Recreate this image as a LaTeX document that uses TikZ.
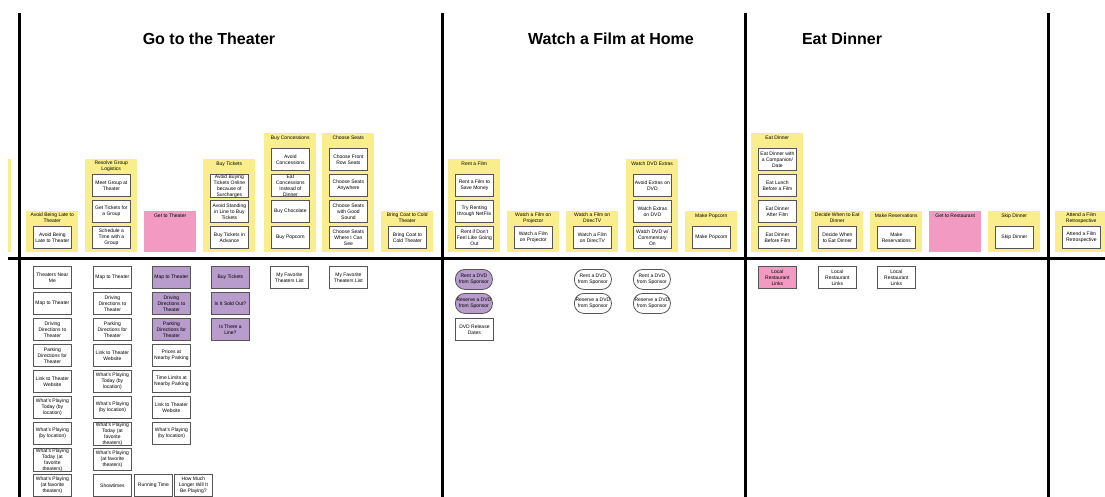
\documentclass[tikz,border=0pt]{standalone}
\usepackage{fontspec}
\setmainfont{Liberation Sans}
\definecolor{yellowc}{RGB}{250,238,140}
\definecolor{pinkc}{RGB}{243,154,195}
\definecolor{purplec}{RGB}{184,156,204}
\definecolor{cardline}{RGB}{85,85,85}
\newcommand\cardfont{\fontsize{5}{6}\selectfont}
\tikzset{
  grp/.style={fill=yellowc, draw=none, anchor=north west, minimum width=52pt, inner sep=0pt},
  pgrp/.style={grp, fill=pinkc},
  gtitle/.style={font=\cardfont, align=center, anchor=north, inner sep=0pt},
  card/.style={draw=cardline, line width=0.8pt, fill=white, anchor=north west,
    minimum width=38pt, minimum height=22pt, inner sep=0pt, align=center, font=\cardfont},
  pcard/.style={card, fill=purplec},
  kcard/.style={card, fill=pinkc},
  oval/.style={card, minimum width=37pt, minimum height=20pt, rounded corners=9.5pt},
  poval/.style={oval, fill=purplec},
  lane/.style={line width=3pt, black},
  head/.style={font=\bfseries\fontsize{16}{18}\selectfont, anchor=center, inner sep=0pt}
}
\begin{document}
\begin{tikzpicture}[x=1pt, y=-1pt]
\useasboundingbox (0,0) rectangle (1105,497);

% ---------- lane titles ----------
\node[head] (h1) at (209,39) {Go to the Theater};
\node[head] (h2) at (611,39) {Watch a Film at Home};
\node[head] (h3) at (842,39) {Eat Dinner};

% ---------- task groups ----------
\node[grp, minimum width=3pt, minimum height=93pt] (g0) at (8,159) {};

\node[grp, minimum height=41pt] (g1) at (26,211) {};
\node[gtitle] (g1t) at ([yshift=-2pt]g1.north) {Avoid Being Late to\\Theater};
\node[card] (g1a) at (33,226) {Avoid Being\\Late to Theater};

\node[grp, minimum height=93pt] (g2) at (85,159) {};
\node[gtitle] (g2t) at ([yshift=-2pt]g2.north) {Resolve Group\\Logistics};
\node[card] (g2a) at (92,174) {Meet Group at\\Theater};
\node[card] (g2b) at (92,200) {Get Tickets for\\a Group};
\node[card] (g2c) at (92,226) {Schedule a\\Time with a\\Group};

\node[pgrp, minimum height=41pt] (g3) at (144,211) {};
\node[gtitle] (g3t) at ([yshift=-3pt]g3.north) {Get to Theater};

\node[grp, minimum height=93pt] (g4) at (203,159) {};
\node[gtitle] (g4t) at ([yshift=-3pt]g4.north) {Buy Tickets};
\node[card] (g4a) at (210,174) {Avoid Buying\\Tickets Online\\because of\\Surcharges};
\node[card] (g4b) at (210,200) {Avoid Standing\\in Line to Buy\\Tickets};
\node[card] (g4c) at (210,226) {Buy Tickets in\\Advance};

\node[grp, minimum height=119pt] (g5) at (264,133) {};
\node[gtitle] (g5t) at ([yshift=-3pt]g5.north) {Buy Concessions};
\node[card] (g5a) at (271,148) {Avoid\\Concessions};
\node[card] (g5b) at (271,174) {Eat\\Concessions\\Instead of\\Dinner};
\node[card] (g5c) at (271,200) {Buy Chocolate};
\node[card] (g5d) at (271,226) {Buy Popcorn};

\node[grp, minimum height=119pt] (g6) at (322,133) {};
\node[gtitle] (g6t) at ([yshift=-3pt]g6.north) {Choose Seats};
\node[card] (g6a) at (329,148) {Choose Front\\Row Seats};
\node[card] (g6b) at (329,174) {Choose Seats\\Anywhere};
\node[card] (g6c) at (329,200) {Choose Seats\\with Good\\Sound};
\node[card] (g6d) at (329,226) {Choose Seats\\Where I Can\\See};

\node[grp, minimum height=41pt] (g7) at (381,211) {};
\node[gtitle] (g7t) at ([yshift=-2pt]g7.north) {Bring Coat to Cold\\Theater};
\node[card] (g7a) at (388,226) {Bring Coat to\\Cold Theater};

\node[grp, minimum height=93pt] (g8) at (448,159) {};
\node[gtitle] (g8t) at ([yshift=-3pt]g8.north) {Rent a Film};
\node[card] (g8a) at (455,174) {Rent a Film to\\Save Money};
\node[card] (g8b) at (455,200) {Try Renting\\through NetFlix};
\node[card] (g8c) at (455,226) {Rent if Don't\\Feel Like Going\\Out};

\node[grp, minimum height=41pt] (g9) at (507,211) {};
\node[gtitle] (g9t) at ([yshift=-2pt]g9.north) {Watch a Film on\\Projector};
\node[card] (g9a) at (514,226) {Watch a Film\\on Projector};

\node[grp, minimum height=41pt] (g10) at (566,211) {};
\node[gtitle] (g10t) at ([yshift=-2pt]g10.north) {Watch a Film on\\DirecTV};
\node[card] (g10a) at (573,226) {Watch a Film\\on DirecTV};

\node[grp, minimum height=93pt] (g11) at (626,159) {};
\node[gtitle] (g11t) at ([yshift=-3pt]g11.north) {Watch DVD Extras};
\node[card] (g11a) at (633,174) {Avoid Extras on\\DVD};
\node[card] (g11b) at (633,200) {Watch Extras\\on DVD};
\node[card] (g11c) at (633,226) {Watch DVD w/\\Commentary\\On};

\node[grp, minimum height=41pt] (g12) at (685,211) {};
\node[gtitle] (g12t) at ([yshift=-3pt]g12.north) {Make Popcorn};
\node[card] (g12a) at (692,226) {Make Popcorn};

\node[grp, minimum height=119pt] (g13) at (751,133) {};
\node[gtitle] (g13t) at ([yshift=-3pt]g13.north) {Eat Dinner};
\node[card] (g13a) at (758,148) {Eat Dinner with\\a Companion/\\Date};
\node[card] (g13b) at (758,174) {Eat Lunch\\Before a Film};
\node[card] (g13c) at (758,200) {Eat Dinner\\After Film};
\node[card] (g13d) at (758,226) {Eat Dinner\\Before Film};

\node[grp, minimum height=41pt] (g14) at (811,211) {};
\node[gtitle] (g14t) at ([yshift=-2pt]g14.north) {Decide When to Eat\\Dinner};
\node[card] (g14a) at (818,226) {Decide When\\to Eat Dinner};

\node[grp, minimum height=41pt] (g15) at (870,211) {};
\node[gtitle] (g15t) at ([yshift=-3pt]g15.north) {Make Reservations};
\node[card] (g15a) at (877,226) {Make\\Reservations};

\node[pgrp, minimum height=41pt] (g16) at (929,211) {};
\node[gtitle] (g16t) at ([yshift=-3pt]g16.north) {Get to Restaurant};

\node[grp, minimum height=41pt] (g17) at (988,211) {};
\node[gtitle] (g17t) at ([yshift=-3pt]g17.north) {Skip Dinner};
\node[card] (g17a) at (995,226) {Skip Dinner};

\node[grp, minimum height=41pt] (g18) at (1055,211) {};
\node[gtitle] (g18t) at ([yshift=-2pt]g18.north) {Attend a Film\\Retrospective};
\node[card] (g18a) at (1062,226) {Attend a Film\\Retrospective};

% ---------- supporting features ----------
% column A
\node[card] (a0) at (33,266) {Theaters Near\\Me};
\node[card] (a1) at (33,292) {Map to Theater};
\node[card] (a2) at (33,318) {Driving\\Directions to\\Theater};
\node[card] (a3) at (33,344) {Parking\\Directions for\\Theater};
\node[card] (a4) at (33,370) {Link to Theater\\Website};
\node[card] (a5) at (33,396) {What's Playing\\Today (by\\location)};
\node[card] (a6) at (33,422) {What's Playing\\(by location)};
\node[card] (a7) at (33,448) {What's Playing\\Today (at\\favorite\\theaters)};
\node[card] (a8) at (33,474) {What's Playing\\(at favorite\\theaters)};
% column B
\node[card] (b0) at (93,266) {Map to Theater};
\node[card] (b1) at (93,292) {Driving\\Directions to\\Theater};
\node[card] (b2) at (93,318) {Parking\\Directions for\\Theater};
\node[card] (b3) at (93,344) {Link to Theater\\Website};
\node[card] (b4) at (93,370) {What's Playing\\Today (by\\location)};
\node[card] (b5) at (93,396) {What's Playing\\(by location)};
\node[card] (b6) at (93,422) {What's Playing\\Today (at\\favorite\\theaters)};
\node[card] (b7) at (93,448) {What's Playing\\(at favorite\\theaters)};
\node[card] (b8) at (93,474) {Showtimes};
\node[card] (b9) at (134,474) {Running Time};
\node[card] (b10) at (174,474) {How Much\\Longer Will It\\Be Playing?};
% column C
\node[pcard] (c0) at (152,266) {Map to Theater};
\node[pcard] (c1) at (152,292) {Driving\\Directions to\\Theater};
\node[pcard] (c2) at (152,318) {Parking\\Directions for\\Theater};
\node[card] (c3) at (152,344) {Prices at\\Nearby Parking};
\node[card] (c4) at (152,370) {Time Limits at\\Nearby Parking};
\node[card] (c5) at (152,396) {Link to Theater\\Website};
\node[card] (c6) at (152,422) {What's Playing\\(by location)};
% column D
\node[pcard] (d0) at (211,266) {Buy Tickets};
\node[pcard] (d1) at (211,292) {Is It Sold Out?};
\node[pcard] (d2) at (211,318) {Is There a\\Line?};
% favourites
\node[card] (e0) at (270,266) {My Favorite\\Theaters List};
\node[card] (f0) at (329,266) {My Favorite\\Theaters List};
% home viewing
\node[poval] (w0) at (455,269) {Rent a DVD\\from Sponsor};
\node[poval] (w1) at (455,293) {Reserve a DVD\\from Sponsor};
\node[card] (w2) at (455,318) {DVD Release\\Dates};
\node[oval] (x0) at (574,269) {Rent a DVD\\from Sponsor};
\node[oval] (x1) at (574,293) {Reserve a DVD\\from Sponsor};
\node[oval] (y0) at (633,269) {Rent a DVD\\from Sponsor};
\node[oval] (y1) at (633,293) {Reserve a DVD\\from Sponsor};
% dinner
\node[kcard] (r0) at (758,266) {Local\\Restaurant\\Links};
\node[card] (r1) at (818,266) {Local\\Restaurant\\Links};
\node[card] (r2) at (877,266) {Local\\Restaurant\\Links};

% ---------- lane dividers ----------
\draw[lane, line width=3.5pt] (8,258.5) -- (1105,258.5);
\foreach \lx in {19,442,745,1048}
  \draw[lane] (\lx,13) -- (\lx,497);
\end{tikzpicture}
\end{document}
